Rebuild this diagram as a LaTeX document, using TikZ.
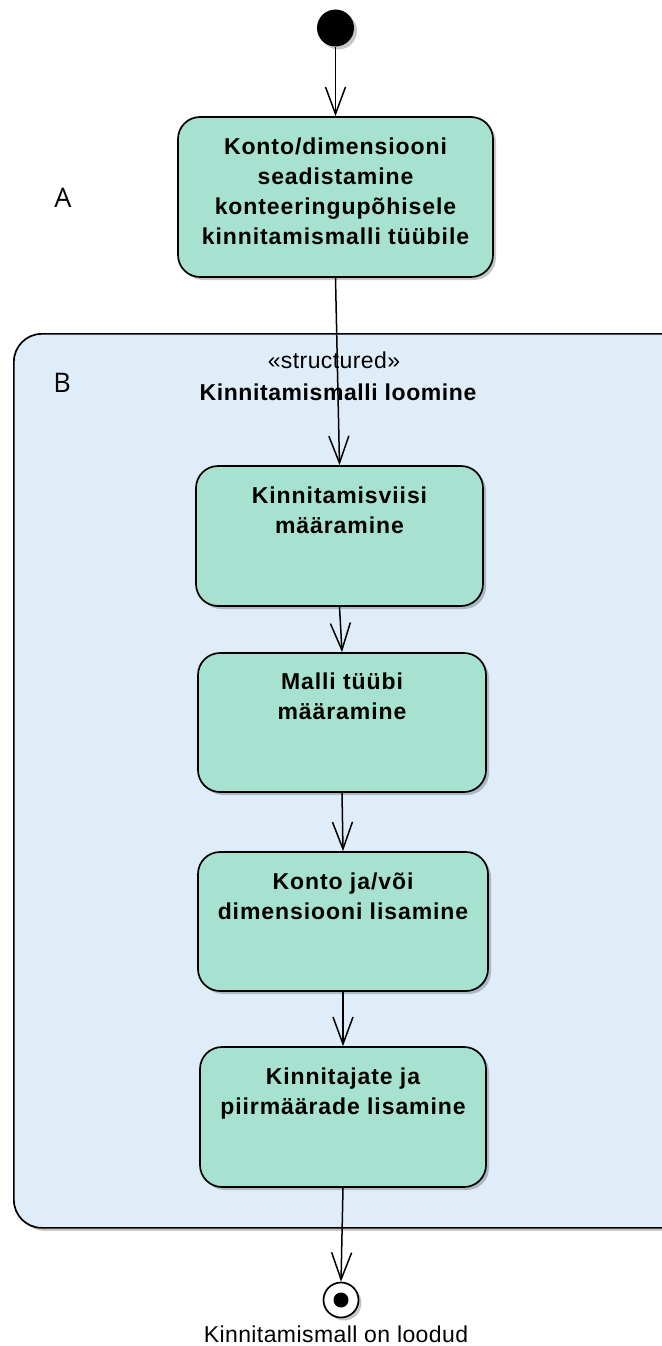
\documentclass[tikz,border=0pt]{standalone}
\usepackage{fontspec}
\setmainfont{Liberation Sans}
\newfontfamily\actfont{Liberation Sans}[LetterSpace=4]
\newfontfamily\titlefont{Liberation Sans}[LetterSpace=2.5]
\newfontfamily\notefont{Liberation Sans}[LetterSpace=1.8]
\newfontfamily\markfont{Open Sans}
\usetikzlibrary{arrows.meta,shadows}
\definecolor{actfill}{RGB}{167,226,208}
\definecolor{regfill}{RGB}{223,237,249}
\begin{document}
\begin{tikzpicture}[x=1pt,y=-1pt,
  softshadow/.style={drop shadow={shadow xshift=3pt,shadow yshift=-3pt,opacity=0.22,fill=black}},
  action/.style={draw=black,line width=1.7pt,fill=actfill,rounded corners=22pt,
    inner sep=0pt,softshadow},
  acttext/.style={inner sep=0pt,anchor=north,align=center,
    font=\actfont\bfseries\fontsize{23}{30}\selectfont},
  region/.style={draw=black,line width=1.7pt,fill=regfill,rounded corners=28pt,
    inner sep=0pt,softshadow},
  flow/.style={draw=black,line width=1.5pt,
    -{Straight Barb[length=27pt,width=20pt,line width=1.5pt]}},
  plain/.style={inner sep=0pt,font=\notefont\fontsize{23}{28}\selectfont},
  letter/.style={inner sep=0pt,font=\markfont\fontsize{27}{32}\selectfont}]

\useasboundingbox (0,0) rectangle (661,1346);

% structured activity region (runs past the right edge)
\node[region,anchor=north west,minimum width=690pt,minimum height=894pt] (reg) at (13,333) {};
\node[plain,anchor=base] (st) at (334,368) {«structured»};
\node[plain,anchor=base,font=\titlefont\bfseries\fontsize{23}{28}\selectfont] (rt) at (338,400) {Kinnitamismalli loomine};

% side letters
\node[letter] (la) at (63,198) {A};
\node[letter] (lb) at (62,383) {B};

% initial and final nodes
\node[circle,fill=black,minimum size=37pt,inner sep=0pt,softshadow] (start) at (335.5,28) {};
\node[circle,draw=black,line width=1.7pt,fill=white,minimum size=35pt,inner sep=0pt,softshadow] (final) at (341,1300) {};
\node[circle,fill=black,minimum size=15pt,inner sep=0pt] (finaldot) at (final.center) {};
\node[plain,anchor=base] (ft) at (336,1342) {Kinnitamismall on loodud};

% actions
\node[action,minimum width=315pt,minimum height=160pt] (a) at (335.5,197) {};
\node[acttext] (at) at ([yshift=-21pt]a.north) {Konto/dimensiooni\\seadistamine\\konteeringupõhisele\\kinnitamismalli tüübile};

\node[action,minimum width=287pt,minimum height=140pt] (b1) at (339.5,536) {};
\node[acttext] (b1t) at ([yshift=-21pt]b1.north) {Kinnitamisviisi\\määramine};

\node[action,minimum width=288pt,minimum height=139pt] (b2) at (342,722.5) {};
\node[acttext] (b2t) at ([yshift=-20pt]b2.north) {Malli tüübi\\määramine};

\node[action,minimum width=290pt,minimum height=139pt] (b3) at (343,921.5) {};
\node[acttext] (b3t) at ([yshift=-21pt]b3.north) {Konto ja/või\\dimensiooni lisamine};

\node[action,minimum width=286pt,minimum height=140pt] (b4) at (343,1117) {};
\node[acttext] (b4t) at ([yshift=-21pt]b4.north) {Kinnitajate ja\\piirmäärade lisamine};

% control flows
\draw[flow] (start) -- (a.north);
\draw[flow] (a.south) -- (b1.north);
\draw[flow] (b1.south) -- (b2.north);
\draw[flow] (b2.south) -- (b3.north);
\draw[flow] (b3.south) -- (b4.north);
\draw[flow] (b4.south) -- (final.north);
\end{tikzpicture}
\end{document}
